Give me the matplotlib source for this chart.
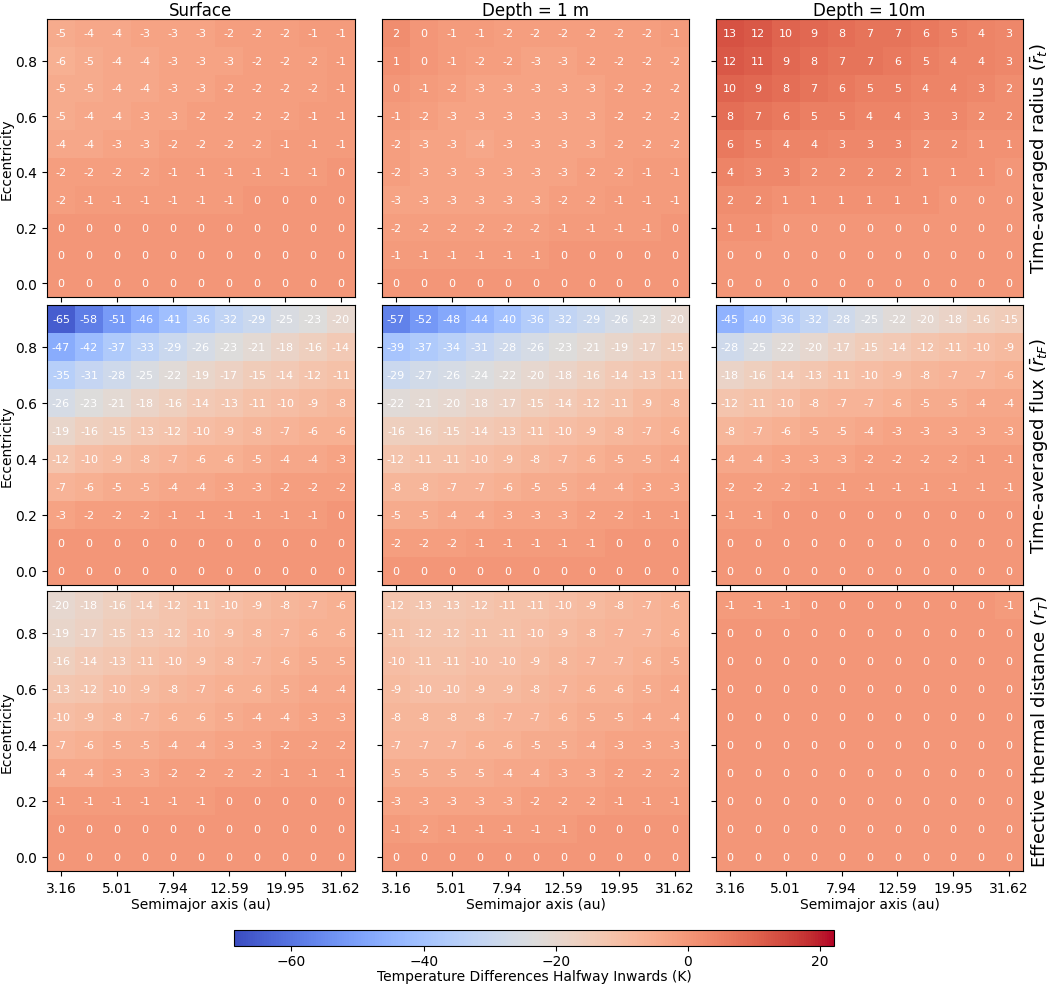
import numpy as np
import matplotlib
matplotlib.use("Agg")
import matplotlib.pyplot as plt

semimajor = [3.16, 3.98, 5.01, 6.31, 7.94, 10.00, 12.59, 15.85, 19.95, 25.12, 31.62]
ecc = [0.0, 0.1, 0.2, 0.3, 0.4, 0.5, 0.6, 0.7, 0.8, 0.9]
col_titles = ["Surface", "Depth = 1 m", "Depth = 10m"]
row_labels = ["Time-averaged radius ($\\bar{r}_t$)",
              "Time-averaged flux ($\\bar{r}_{tF}$)",
              "Effective thermal distance ($r_T$)"]

# rows listed from e=0.9 (top) down to e=0.0 (bottom)
radius_surface = [
    [-5, -4, -4, -3, -3, -3, -2, -2, -2, -1, -1],
    [-6, -5, -4, -4, -3, -3, -3, -2, -2, -2, -1],
    [-5, -5, -4, -4, -3, -3, -2, -2, -2, -2, -1],
    [-5, -4, -4, -3, -3, -2, -2, -2, -2, -1, -1],
    [-4, -4, -3, -3, -2, -2, -2, -2, -1, -1, -1],
    [-2, -2, -2, -2, -1, -1, -1, -1, -1, -1, 0],
    [-2, -1, -1, -1, -1, -1, -1, 0, 0, 0, 0],
    [0, 0, 0, 0, 0, 0, 0, 0, 0, 0, 0],
    [0, 0, 0, 0, 0, 0, 0, 0, 0, 0, 0],
    [0, 0, 0, 0, 0, 0, 0, 0, 0, 0, 0],
]
radius_1m = [
    [2, 0, -1, -1, -2, -2, -2, -2, -2, -2, -1],
    [1, 0, -1, -2, -2, -3, -3, -2, -2, -2, -2],
    [0, -1, -2, -3, -3, -3, -3, -3, -2, -2, -2],
    [-1, -2, -3, -3, -3, -3, -3, -3, -2, -2, -2],
    [-2, -3, -3, -4, -3, -3, -3, -3, -2, -2, -2],
    [-2, -3, -3, -3, -3, -3, -3, -2, -2, -1, -1],
    [-3, -3, -3, -3, -3, -3, -2, -2, -1, -1, -1],
    [-2, -2, -2, -2, -2, -2, -1, -1, -1, -1, 0],
    [-1, -1, -1, -1, -1, -1, 0, 0, 0, 0, 0],
    [0, 0, 0, 0, 0, 0, 0, 0, 0, 0, 0],
]
radius_10m = [
    [13, 12, 10, 9, 8, 7, 7, 6, 5, 4, 3],
    [12, 11, 9, 8, 7, 7, 6, 5, 4, 4, 3],
    [10, 9, 8, 7, 6, 5, 5, 4, 4, 3, 2],
    [8, 7, 6, 5, 5, 4, 4, 3, 3, 2, 2],
    [6, 5, 4, 4, 3, 3, 3, 2, 2, 1, 1],
    [4, 3, 3, 2, 2, 2, 2, 1, 1, 1, 0],
    [2, 2, 1, 1, 1, 1, 1, 1, 0, 0, 0],
    [1, 1, 0, 0, 0, 0, 0, 0, 0, 0, 0],
    [0, 0, 0, 0, 0, 0, 0, 0, 0, 0, 0],
    [0, 0, 0, 0, 0, 0, 0, 0, 0, 0, 0],
]
flux_surface = [
    [-65, -58, -51, -46, -41, -36, -32, -29, -25, -23, -20],
    [-47, -42, -37, -33, -29, -26, -23, -21, -18, -16, -14],
    [-35, -31, -28, -25, -22, -19, -17, -15, -14, -12, -11],
    [-26, -23, -21, -18, -16, -14, -13, -11, -10, -9, -8],
    [-19, -16, -15, -13, -12, -10, -9, -8, -7, -6, -6],
    [-12, -10, -9, -8, -7, -6, -6, -5, -4, -4, -3],
    [-7, -6, -5, -5, -4, -4, -3, -3, -2, -2, -2],
    [-3, -2, -2, -2, -1, -1, -1, -1, -1, -1, 0],
    [0, 0, 0, 0, 0, 0, 0, 0, 0, 0, 0],
    [0, 0, 0, 0, 0, 0, 0, 0, 0, 0, 0],
]
flux_1m = [
    [-57, -52, -48, -44, -40, -36, -32, -29, -26, -23, -20],
    [-39, -37, -34, -31, -28, -26, -23, -21, -19, -17, -15],
    [-29, -27, -26, -24, -22, -20, -18, -16, -14, -13, -11],
    [-22, -21, -20, -18, -17, -15, -14, -12, -11, -9, -8],
    [-16, -16, -15, -14, -13, -11, -10, -9, -8, -7, -6],
    [-12, -11, -11, -10, -9, -8, -7, -6, -5, -5, -4],
    [-8, -8, -7, -7, -6, -5, -5, -4, -4, -3, -3],
    [-5, -5, -4, -4, -3, -3, -3, -2, -2, -1, -1],
    [-2, -2, -2, -1, -1, -1, -1, -1, 0, 0, 0],
    [0, 0, 0, 0, 0, 0, 0, 0, 0, 0, 0],
]
flux_10m = [
    [-45, -40, -36, -32, -28, -25, -22, -20, -18, -16, -15],
    [-28, -25, -22, -20, -17, -15, -14, -12, -11, -10, -9],
    [-18, -16, -14, -13, -11, -10, -9, -8, -7, -7, -6],
    [-12, -11, -10, -8, -7, -7, -6, -5, -5, -4, -4],
    [-8, -7, -6, -5, -5, -4, -3, -3, -3, -3, -3],
    [-4, -4, -3, -3, -3, -2, -2, -2, -2, -1, -1],
    [-2, -2, -2, -1, -1, -1, -1, -1, -1, -1, -1],
    [-1, -1, 0, 0, 0, 0, 0, 0, 0, 0, 0],
    [0, 0, 0, 0, 0, 0, 0, 0, 0, 0, 0],
    [0, 0, 0, 0, 0, 0, 0, 0, 0, 0, 0],
]
thermal_surface = [
    [-20, -18, -16, -14, -12, -11, -10, -9, -8, -7, -6],
    [-19, -17, -15, -13, -12, -10, -9, -8, -7, -6, -6],
    [-16, -14, -13, -11, -10, -9, -8, -7, -6, -5, -5],
    [-13, -12, -10, -9, -8, -7, -6, -6, -5, -4, -4],
    [-10, -9, -8, -7, -6, -6, -5, -4, -4, -3, -3],
    [-7, -6, -5, -5, -4, -4, -3, -3, -2, -2, -2],
    [-4, -4, -3, -3, -2, -2, -2, -2, -1, -1, -1],
    [-1, -1, -1, -1, -1, -1, 0, 0, 0, 0, 0],
    [0, 0, 0, 0, 0, 0, 0, 0, 0, 0, 0],
    [0, 0, 0, 0, 0, 0, 0, 0, 0, 0, 0],
]
thermal_1m = [
    [-12, -13, -13, -12, -11, -11, -10, -9, -8, -7, -6],
    [-11, -12, -12, -11, -11, -10, -9, -8, -7, -7, -6],
    [-10, -11, -11, -10, -10, -9, -8, -7, -7, -6, -5],
    [-9, -10, -10, -9, -9, -8, -7, -6, -6, -5, -4],
    [-8, -8, -8, -8, -7, -7, -6, -5, -5, -4, -4],
    [-7, -7, -7, -6, -6, -5, -5, -4, -3, -3, -3],
    [-5, -5, -5, -5, -4, -4, -3, -3, -2, -2, -2],
    [-3, -3, -3, -3, -3, -2, -2, -2, -1, -1, -1],
    [-1, -2, -1, -1, -1, -1, -1, 0, 0, 0, 0],
    [0, 0, 0, 0, 0, 0, 0, 0, 0, 0, 0],
]
thermal_10m = [
    [-1, -1, -1, 0, 0, 0, 0, 0, 0, 0, -1],
    [0, 0, 0, 0, 0, 0, 0, 0, 0, 0, 0],
    [0, 0, 0, 0, 0, 0, 0, 0, 0, 0, 0],
    [0, 0, 0, 0, 0, 0, 0, 0, 0, 0, 0],
    [0, 0, 0, 0, 0, 0, 0, 0, 0, 0, 0],
    [0, 0, 0, 0, 0, 0, 0, 0, 0, 0, 0],
    [0, 0, 0, 0, 0, 0, 0, 0, 0, 0, 0],
    [0, 0, 0, 0, 0, 0, 0, 0, 0, 0, 0],
    [0, 0, 0, 0, 0, 0, 0, 0, 0, 0, 0],
    [0, 0, 0, 0, 0, 0, 0, 0, 0, 0, 0],
]

grids = [
    [radius_surface, radius_1m, radius_10m],
    [flux_surface, flux_1m, flux_10m],
    [thermal_surface, thermal_1m, thermal_10m],
]

VMIN, VMAX = -68.7, 22.1

W, H = 1050, 987
fig = plt.figure(figsize=(W / 100, H / 100), dpi=100)

col_px = [(47, 355), (382, 689), (716, 1023)]
row_px = [(20, 298), (306, 586), (592, 872)]

xtick_idx = list(range(0, len(semimajor), 2))
ytick_idx = list(range(0, len(ecc) - 1, 2))

im = None
for r in range(3):
    for c in range(3):
        x0, x1 = col_px[c]
        y0, y1 = row_px[r]
        ax = fig.add_axes([x0 / W, 1 - y1 / H, (x1 - x0) / W, (y1 - y0) / H])
        data = np.flipud(np.array(grids[r][c], dtype=float))
        im = ax.imshow(data, cmap="coolwarm", vmin=VMIN, vmax=VMAX,
                       origin="lower", aspect="auto", interpolation="nearest")
        for i in range(data.shape[0]):
            for j in range(data.shape[1]):
                ax.text(j, i, f"{data[i, j]:.0f}", ha="center", va="center",
                        color="white", fontsize=8)
        ax.set_xticks(xtick_idx)
        ax.set_yticks(ytick_idx)
        if r == 2:
            ax.set_xticklabels([f"{semimajor[k]:.2f}" for k in xtick_idx], fontsize=10)
            ax.set_xlabel("Semimajor axis (au)", fontsize=10, labelpad=2)
        else:
            ax.set_xticklabels([])
        if c == 0:
            ax.set_yticklabels([f"{ecc[k]:.1f}" for k in ytick_idx], fontsize=10)
            ax.set_ylabel("Eccentricity", fontsize=10, labelpad=1)
        else:
            ax.set_yticklabels([])
        if r == 0:
            ax.set_title(col_titles[c], fontsize=12, pad=3)
        if c == 2:
            ax.yaxis.set_label_position("right")
            ax.set_ylabel(row_labels[r], fontsize=13, labelpad=4)

cax = fig.add_axes([234 / W, 1 - 947 / H, (834 - 234) / W, (947 - 931) / H])
cb = fig.colorbar(im, cax=cax, orientation="horizontal")
cb.set_ticks([-60, -40, -20, 0, 20])
cb.ax.tick_params(labelsize=10, pad=2)
cb.set_label("Temperature Differences Halfway Inwards (K)", fontsize=10, labelpad=1)

fig.savefig("out.png", dpi=100)
